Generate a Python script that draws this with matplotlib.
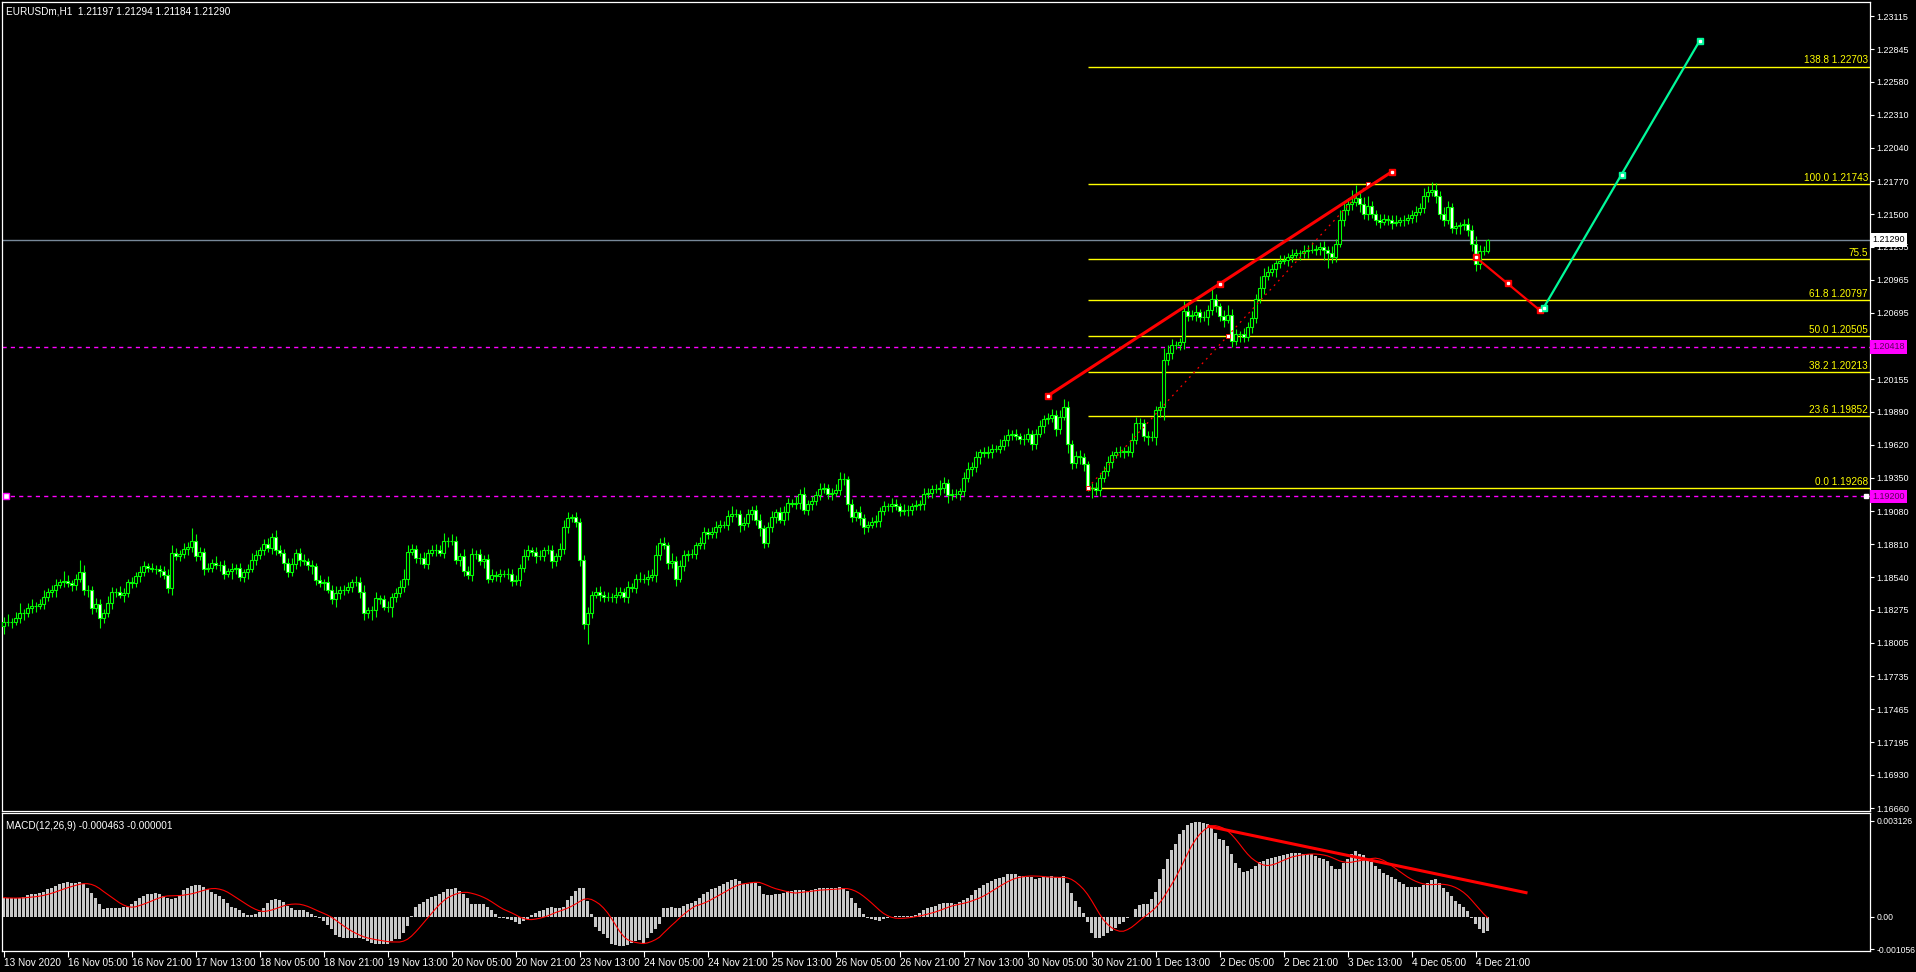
import numpy as np
import pandas as pd
import matplotlib
matplotlib.use("Agg")
import matplotlib.pyplot as plt
from matplotlib.transforms import blended_transform_factory

# ---------------- data (prices in pips above 1.18000) ----------------
symbol_title = "EURUSDm,H1  1.21197 1.21294 1.21184 1.21290"
macd_title = "MACD(12,26,9) -0.000463 -0.000001"

first_open = 14
closes = [
    18, 18, 18, 21, 25, 25, 29, 31, 31, 32, 38, 42, 44, 48, 50, 51,
    49, 48, 53, 58, 44, 44, 29, 32, 21, 25, 33, 42, 42, 40, 41, 50,
    49, 55, 58, 63, 62, 61, 61, 59, 56, 45, 74, 71, 73, 77, 79, 84,
    71, 75, 61, 62, 66, 64, 64, 57, 59, 61, 62, 54, 58, 61, 68, 72,
    76, 81, 78, 87, 76, 74, 66, 58, 65, 74, 68, 67, 64, 63, 52, 49,
    50, 44, 36, 41, 44, 44, 46, 50, 50, 42, 25, 27, 27, 37, 36, 30,
    30, 38, 41, 46, 53, 75, 77, 70, 70, 65, 74, 76, 76, 74, 84, 84,
    84, 68, 71, 59, 56, 73, 73, 67, 69, 53, 56, 55, 57, 57, 57, 51,
    52, 62, 71, 76, 75, 71, 71, 76, 76, 67, 71, 77, 95, 102, 103, 99,
    68, 16, 25, 40, 42, 40, 38, 38, 38, 40, 42, 38, 46, 45, 53, 53,
    53, 54, 56, 72, 82, 80, 66, 67, 53, 63, 72, 73, 73, 80, 82, 91,
    89, 91, 95, 97, 97, 104, 106, 106, 97, 98, 106, 109, 101, 94, 82, 95,
    103, 107, 101, 107, 115, 114, 115, 122, 109, 114, 116, 121, 126, 127, 122, 123,
    125, 134, 134, 114, 103, 107, 102, 95, 97, 99, 100, 108, 112, 112, 114, 112,
    108, 109, 109, 112, 113, 114, 122, 123, 126, 126, 127, 131, 121, 122, 122, 124,
    135, 142, 144, 152, 156, 155, 156, 159, 159, 161, 166, 170, 171, 169, 167, 167,
    171, 163, 171, 177, 183, 184, 186, 175, 185, 193, 163, 147, 153, 152, 146, 127,
    127, 125, 135, 141, 148, 154, 156, 156, 157, 156, 166, 180, 180, 169, 168, 168,
    190, 193, 231,
    237, 243, 243, 246, 271, 267, 268, 270, 266, 266, 272, 281, 275, 267, 264, 268,
    247, 252, 252, 250, 258, 265, 281,
    290, 300, 303, 305, 310, 312, 313, 315, 317, 318, 318, 320, 321, 321, 322, 323,
    321, 318, 315, 326, 345, 353, 358, 360, 363, 358, 350, 357, 350, 345, 344, 346,
    345, 343, 344, 345, 345, 347, 349, 352, 355, 365, 368, 370, 365, 350, 345, 356,
    339, 340, 341, 342, 337, 326, 309, 320, 319.7, 329,
]

up_wick = [
    4, 6, 3, 5, 8, 3, 4, 5, 3, 4, 6, 3, 4, 5, 3, 8,
    5, 3, 4, 10, 6, 4, 3, 5, 4, 3, 6, 4, 3, 5, 4, 3,
    4, 3, 5, 4, 3, 4, 3, 3, 4, 5, 6, 4, 3, 5, 4, 10,
    5, 4, 3, 4, 3, 5, 3, 4, 3, 5, 3, 4, 3, 4, 6, 4,
    3, 4, 5, 3, 6, 4, 3, 4, 5, 3, 4, 5, 3, 4, 3, 4,
    3, 5, 4, 6, 3, 4, 4, 3, 5, 4, 6, 3, 4, 5, 3, 4,
    5, 3, 4, 6, 8, 5, 4, 3, 4, 5, 3, 4, 5, 4, 6, 3,
    5, 4, 3, 6, 4, 5, 3, 4, 3, 4, 5, 3, 4, 3, 5, 4,
    4, 3, 6, 4, 3, 4, 5, 3, 4, 4, 3, 5, 6, 5, 3, 4,
    3, 4, 5, 3, 4, 5, 3, 4, 3, 6, 4, 3, 5, 3, 4, 5,
    4, 6, 5, 8, 4, 5, 3, 7, 4, 5, 4, 3, 4, 3, 5, 4,
    3, 4, 5, 4, 3, 5, 6, 4, 3, 5, 4, 3, 4, 5, 3, 4,
    5, 3, 4, 5, 4, 3, 5, 4, 6, 3, 4, 3, 5, 4, 3, 4,
    5, 6, 5, 3, 4, 3, 5, 4, 3, 4, 5, 3, 4, 3, 5, 4,
    3, 5, 4, 3, 4, 3, 5, 4, 3, 4, 6, 5, 3, 4, 4, 3,
    5, 6, 4, 5, 3, 4, 5, 4, 3, 6, 4, 5, 3, 4, 3, 4,
    5, 3, 4, 5, 3, 4, 5, 4, 5, 6, 5, 3, 4, 5, 3, 3,
    4, 5, 3, 4, 5, 3, 4, 5, 3, 4, 6, 5, 4, 3, 4, 5,
    4, 5, 10, 6, 5, 4, 3, 8, 5, 4, 6, 3, 5, 4, 8, 4,
    3, 5, 8, 5, 4, 3, 5, 4, 6, 4, 10, 6, 5, 4, 3, 5,
    4, 3, 5, 4, 3, 5, 4, 6, 3, 4, 5, 3, 6, 4, 8, 6,
    5, 10, 11, 5, 6, 8, 4, 3, 5, 4, 3, 4, 5, 3, 4, 3,
    4, 5, 4, 6, 5, 6, 5, 4, 6, 5, 3, 4, 3, 4, 5, 4,
    6, 5, 4, 0.4,
]

low_wick = [
    6, 4, 5, 3, 4, 6, 3, 4, 5, 3, 4, 3, 4, 6, 3, 4,
    3, 5, 4, 3, 4, 6, 5, 3, 8, 4, 3, 5, 4, 3, 6, 3,
    4, 3, 5, 3, 4, 3, 4, 5, 3, 4, 5, 3, 4, 3, 5, 4,
    4, 3, 5, 3, 4, 3, 5, 4, 3, 6, 4, 3, 4, 5, 3, 4,
    3, 4, 3, 5, 4, 3, 6, 4, 3, 4, 5, 3, 4, 6, 4, 3,
    5, 3, 4, 6, 5, 4, 3, 4, 3, 5, 6, 4, 8, 5, 4, 3,
    4, 8, 4, 3, 4, 5, 3, 4, 5, 3, 4, 3, 5, 3, 4, 5,
    4, 3, 5, 4, 3, 5, 4, 3, 5, 4, 3, 4, 5, 3, 4, 4,
    3, 5, 4, 3, 4, 5, 3, 4, 3, 5, 4, 3, 4, 5, 3, 4,
    5, 4, 16, 4, 3, 5, 4, 3, 4, 5, 3, 4, 5, 3, 4, 3,
    4, 5, 3, 6, 4, 3, 5, 4, 6, 3, 4, 5, 3, 4, 3, 5,
    4, 3, 5, 4, 3, 4, 5, 3, 6, 4, 3, 5, 4, 6, 4, 3,
    4, 5, 3, 4, 6, 3, 4, 5, 3, 4, 5, 3, 4, 3, 4, 5,
    3, 4, 5, 6, 4, 3, 5, 6, 4, 3, 4, 5, 3, 4, 5, 3,
    4, 3, 5, 4, 3, 4, 5, 3, 4, 3, 5, 4, 6, 4, 3, 5,
    4, 3, 5, 4, 6, 3, 4, 5, 3, 4, 3, 5, 4, 3, 4, 5,
    3, 5, 4, 3, 5, 4, 3, 6, 4, 3, 8, 5, 4, 6, 5, 3,
    8, 4, 5, 3, 4, 5, 3, 4, 5, 3, 4, 3, 5, 4, 6, 3,
    6, 5, 11, 4, 5, 3, 4, 6, 4, 3, 5, 4, 3, 6, 4, 5,
    4, 6, 3, 5, 4, 6, 4, 3, 5, 4, 3, 5, 4, 3, 6, 4,
    3, 5, 4, 3, 5, 4, 6, 3, 4, 5, 8, 12, 5, 4, 3, 5,
    4, 5, 3, 6, 4, 5, 3, 4, 5, 3, 4, 5, 3, 4, 5, 3,
    4, 5, 3, 4, 5, 3, 6, 4, 5, 3, 4, 5, 6, 4, 5, 6,
    5, 4, 3, 1.6,
]

# MACD main value in units of 0.0001
macd_main = [
    6.2, 6.0, 6.0, 6.0, 6.2, 6.4, 6.9, 7.3, 7.5, 7.8, 8.1, 8.9, 9.4, 10.0, 10.7, 11.1,
    11.3, 11.1, 11.1, 11.4, 10.7, 9.4, 7.8, 6.0, 4.0, 2.4, 2.7, 2.7, 2.9, 2.7, 3.1, 3.1,
    4.2, 5.1, 6.0, 6.7, 7.3, 7.5, 7.8, 7.5, 6.7, 6.2, 5.6, 6.2, 7.1, 8.6, 9.2, 10.0,
    10.3, 10.3, 9.7, 8.9, 8.1, 7.5, 6.7, 5.9, 4.6, 3.1, 2.7, 2.1, 1.3, 0.5, 0.5, 0.8,
    1.5, 2.7, 4.6, 5.3, 5.9, 5.5, 4.8, 3.5, 2.7, 2.1, 2.1, 2.1, 1.6, 1.0, 0.2, -0.5,
    -1.4, -2.7, -4.1, -6.0, -6.6, -6.8, -6.8, -7.1, -6.8, -7.1, -7.4, -7.9, -8.5, -9.0, -8.8, -8.8,
    -8.8, -7.9, -7.4, -7.4, -5.2, -3.0, 0.2, 3.1, 4.2, 4.9, 5.6, 6.4, 6.7, 7.3, 8.1, 8.9,
    8.9, 9.2, 8.4, 7.5, 6.2, 4.2, 4.2, 4.2, 4.0, 3.1, 2.1, 0.8, -0.3, -0.5, -0.9, -1.2,
    -1.6, -2.3, -1.4, -0.9, 0.4, 1.3, 1.8, 2.1, 2.7, 3.1, 2.9, 2.7, 3.1, 5.3, 6.7, 8.4,
    9.2, 9.2, 5.1, 0.8, -3.4, -4.7, -5.8, -7.1, -8.8, -9.2, -9.6, -9.6, -9.2, -8.5, -7.9, -7.7,
    -8.5, -6.8, -5.2, -4.1, -2.3, 2.7, 2.9, 3.1, 2.7, 2.9, 3.5, 4.0, 4.6, 5.1, 6.0, 7.3,
    8.1, 8.9, 9.4, 10.0, 10.5, 11.4, 11.8, 12.2, 11.6, 10.5, 10.7, 11.1, 11.1, 10.0, 7.3, 7.1,
    7.1, 7.3, 7.3, 7.8, 8.4, 8.4, 8.6, 8.6, 8.6, 8.4, 8.6, 8.9, 9.2, 9.2, 9.2, 9.2,
    9.2, 9.7, 9.2, 8.4, 6.2, 4.6, 2.7, 0.8, -0.3, -0.9, -1.2, -1.4, -0.9, -0.5, -0.1, 0.1,
    0.1, 0.1, 0.1, 0.3, 0.5, 1.3, 2.1, 2.9, 3.1, 3.5, 4.2, 4.6, 4.6, 4.6, 4.2, 4.9,
    5.3, 6.2, 7.1, 8.6, 9.2, 10.3, 11.1, 11.6, 12.2, 12.5, 12.9, 14.0, 14.0, 13.8, 13.2, 13.2,
    12.9, 12.9, 12.2, 12.5, 12.9, 12.9, 13.2, 12.9, 12.9, 13.2, 11.1, 7.8, 5.1, 3.1, 1.3, -1.6,
    -5.2, -6.8, -6.8, -6.3, -5.2, -4.7, -3.6, -2.5, -1.6, -0.5, -0.1, 2.4, 3.8, 4.2, 4.2, 5.6,
    8.1, 12.2, 15.4, 18.7, 21.6, 23.8, 26.8, 28.1, 29.8, 30.6, 30.8, 30.8, 30.6, 30.1, 29.0, 27.3,
    25.2, 24.9, 23.0, 20.3, 17.6, 16.0, 14.7, 14.9, 15.4, 16.5, 17.9, 18.3, 18.7, 19.2, 19.4, 19.8,
    20.1, 20.5, 20.8, 20.8, 20.6, 20.5, 20.5, 20.3, 19.8, 19.0, 18.7, 18.1, 16.5, 15.4, 15.4, 17.6,
    18.7, 20.3, 21.4, 20.5, 20.1, 18.7, 17.9, 16.5, 15.4, 14.3, 13.6, 12.9, 12.2, 11.4, 10.5, 9.7,
    9.7, 9.7, 9.7, 10.3, 11.1, 11.8, 12.2, 11.1, 9.2, 8.1, 6.7, 5.1, 4.0, 3.1, 1.8, -0.3,
    -2.5, -4.1, -5.2, -4.6,
]

x_tick_labels = ["13 Nov 2020", "16 Nov 05:00", "16 Nov 21:00", "17 Nov 13:00", "18 Nov 05:00",
                 "18 Nov 21:00", "19 Nov 13:00", "20 Nov 05:00", "20 Nov 21:00", "23 Nov 13:00",
                 "24 Nov 05:00", "24 Nov 21:00", "25 Nov 13:00", "26 Nov 05:00", "26 Nov 21:00",
                 "27 Nov 13:00", "30 Nov 05:00", "30 Nov 21:00", "1 Dec 13:00", "2 Dec 05:00",
                 "2 Dec 21:00", "3 Dec 13:00", "4 Dec 05:00", "4 Dec 21:00"]

# 1.20425 sits under the 1.20418 line label, so it shows no text
price_ticks = [1.23115, 1.22845, 1.22580, 1.22310, 1.22040, 1.21770, 1.21500, 1.21235,
               1.20965, 1.20695, 1.20425, 1.20155, 1.19890, 1.19620, 1.19350, 1.19080,
               1.18810, 1.18540, 1.18275, 1.18005, 1.17735, 1.17465, 1.17195, 1.16930, 1.16660]
hidden_ticks = [1.20425]
macd_ticks = [0.003126, 0.0, -0.001056]
macd_tick_labels = ["0.003126", "0.00", "-0.001056"]

fib_levels = ["0.0", "23.6", "38.2", "50.0", "61.8", "75.5", "100.0", "138.8"]
fib_prices = [1.19268, 1.19852, 1.20213, 1.20505, 1.20797, 1.21137, 1.21743, 1.22703]
fib_anchor_bars = [271, 341]

hline_prices = [1.20418, 1.19200]
last_price = 1.21290

# drawing objects: (bar, price) anchors
red_trend_bars, red_trend_prices = [261, 347], [1.20018, 1.21844]
red_proj_bars, red_proj_prices = [368, 384], [1.21151, 1.20719]
green_proj_bars, green_proj_prices = [385, 424], [1.20735, 1.22911]
macd_trend_bars, macd_trend_values = [301, 381], [0.002953, 0.000772]

# ---------------- figure ----------------
W, H = 1916, 972
BG = "black"
FG = "white"
LIME = "#00FF00"
FONT = "Liberation Sans"
FS = 7.2      # title, fib and time labels
FS_AX = 6.5   # price scale labels
plt.rcParams["font.family"] = [FONT, "DejaVu Sans"]

closes = np.array(closes, dtype=float)
assert len(closes) == len(up_wick) == len(low_wick) == len(macd_main), (
    len(closes), len(up_wick), len(low_wick), len(macd_main))
n = len(closes)
idx = np.arange(n)
opens = np.r_[first_open, closes[:-1]]
highs = np.maximum(opens, closes) + np.array(up_wick)
lows = np.minimum(opens, closes) - np.array(low_wick)
to_price = lambda p: 1.18 + np.asarray(p) / 10000.0
o, c, h, l = to_price(opens), to_price(closes), to_price(highs), to_price(lows)

macd = np.array(macd_main) / 10000.0
signal = pd.Series(macd).rolling(9, min_periods=1).mean().values

fig = plt.figure(figsize=(W / 100, H / 100), dpi=100, facecolor=BG)


def px_box(left, top, right, bottom):
    return [left / W, 1 - bottom / H, (right - left) / W, (bottom - top) / H]


ax = fig.add_axes(px_box(2, 2, 1870, 811), facecolor=BG)
axm = fig.add_axes(px_box(2, 813, 1870, 951), facecolor=BG)

x0, step = 3.5, 4.0
xlim = ((2 - x0) / step, (1870 - x0) / step)
for a in (ax, axm):
    a.set_xlim(*xlim)
    for s in a.spines.values():
        s.set_color(FG)
        s.set_linewidth(0.9)
    a.yaxis.tick_right()
    a.tick_params(axis="y", colors=FG, labelsize=FS_AX, length=3, width=0.8, pad=1.5)
    a.tick_params(axis="x", bottom=False, labelbottom=False)

ax.set_ylim(1.166358, 1.232291)
axm.set_ylim(-0.00112, 0.00338)

# candles
bull = c >= o
ax.vlines(idx, l, h, color=LIME, lw=0.8, zorder=3)
ax.bar(idx[bull], (c - o)[bull], bottom=o[bull], width=0.55, color="black",
       edgecolor=LIME, lw=0.8, zorder=4)
ax.bar(idx[~bull], (c - o)[~bull], bottom=o[~bull], width=0.55, color="white",
       edgecolor=LIME, lw=0.8, zorder=4)

# horizontal lines
ax.axhline(last_price, color="#778899", lw=1.0, zorder=2)
for p in hline_prices:
    ax.axhline(p, color="#FF00FF", lw=1.0, ls=(0, (3, 3)), zorder=2)
ax.plot([0.6], [hline_prices[1]], "s", ms=4, mfc="white", mec="#FF00FF", mew=1, zorder=6)
ax.plot([465.6], [hline_prices[1]], "s", ms=2.5, color="white", zorder=6)

# fibonacci
ax.hlines(fib_prices, fib_anchor_bars[0], xlim[1], color="#FFFF00", lw=1.0, zorder=2)
tr = blended_transform_factory(ax.transAxes, ax.transData)
for lvl, p in zip(fib_levels, fib_prices):
    txt = lvl if lvl == "75.5" else f"{lvl} {p:.5f}"
    ax.annotate(txt, xy=(1, p), xycoords=tr, xytext=(-1.5, 0.8), textcoords="offset points",
                ha="right", va="bottom", color="#FFFF00", fontsize=FS, zorder=7)
ax.plot(fib_anchor_bars, [fib_prices[0], fib_prices[6]], color="red", lw=0.9,
        ls=(0, (1.5, 3.5)), zorder=5)
fib_mid = (fib_anchor_bars[0] + fib_anchor_bars[1]) / 2
ax.plot([fib_anchor_bars[0], fib_mid, fib_anchor_bars[1]],
        [fib_prices[0], fib_prices[3], fib_prices[6]], "s", ms=2.8, mfc="white",
        mec="red", mew=0.6, zorder=6)


def trend(a, bars, vals, color, lw, marks=True):
    a.plot(bars, vals, color=color, lw=lw, solid_capstyle="butt", zorder=6)
    if marks:
        mb = [bars[0], (bars[0] + bars[1]) / 2, bars[1]]
        mv = [vals[0], (vals[0] + vals[1]) / 2, vals[1]]
        a.plot(mb, mv, "s", ms=5, color=color, zorder=7)
        a.plot(mb, mv, "s", ms=1.6, color="white", zorder=8)


trend(ax, red_trend_bars, red_trend_prices, "red", 2.2)
trend(ax, red_proj_bars, red_proj_prices, "red", 1.6)
trend(ax, green_proj_bars, green_proj_prices, "#00FA9A", 1.6)

# right axis labels
ax.set_yticks(price_ticks)
ax.set_yticklabels(["" if v in hidden_ticks else f"{v:.5f}" for v in price_ticks])
box_tr = blended_transform_factory(ax.transAxes, ax.transData)
for p in hline_prices:
    ax.text(1.0013, p, f"{p:.5f}", transform=box_tr, ha="left", va="center", fontsize=FS_AX,
            color="#5A005A", zorder=10, clip_on=False,
            bbox=dict(boxstyle="square,pad=0.25", fc="#FF00FF", ec="none"))
ax.text(1.0013, last_price, f"{last_price:.5f}", transform=box_tr, ha="left", va="center",
        fontsize=FS_AX, color="black", zorder=10, clip_on=False,
        bbox=dict(boxstyle="square,pad=0.25", fc="white", ec="none"))

# MACD
axm.bar(idx, macd, width=0.65, color="#C8C8C8", zorder=2)
axm.plot(idx, signal, color="red", lw=0.8, zorder=3)
trend(axm, macd_trend_bars, macd_trend_values, "red", 2.2, marks=False)
axm.set_yticks(macd_ticks)
axm.set_yticklabels(macd_tick_labels)
for lab in axm.get_yticklabels():
    lab.set_fontsize(6.2)

# time axis
axm.set_xticks(np.arange(0, n, 16))
axm.set_xticklabels(x_tick_labels, ha="left")
axm.tick_params(axis="x", bottom=True, labelbottom=True, colors=FG, labelsize=FS,
                length=4, width=0.8, pad=1)

fig.text(6 / W, 1 - 11 / H, symbol_title, color=FG, fontsize=FS, va="center", ha="left")
fig.text(6 / W, 1 - 826 / H, macd_title, color=FG, fontsize=FS, va="center", ha="left")

fig.savefig("out.png", dpi=100, facecolor=BG)
